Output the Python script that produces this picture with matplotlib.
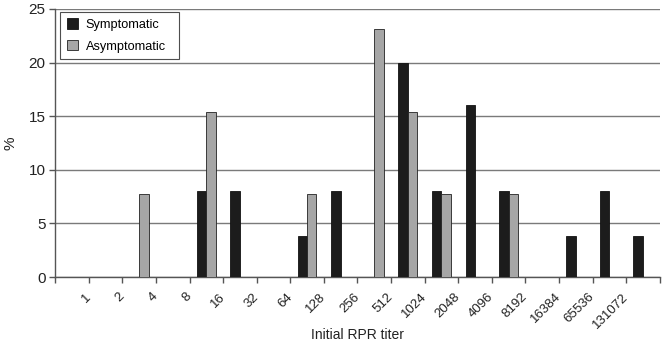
import matplotlib.pyplot as plt
import matplotlib.transforms as mtransforms
import numpy as np

plt.rcParams["font.family"] = ["Liberation Sans", "DejaVu Sans"]

# 18 bar slots; the titer labels sit on the 17 interior slot boundaries
titer_labels = ["1", "2", "4", "8", "16", "32", "64", "128", "256", "512",
                "1024", "2048", "4096", "8192", "16384", "65536", "131072"]
symptomatic = [0, 0, 0, 0, 8, 8, 0, 3.85, 8, 0, 20, 8, 16, 8, 0, 3.85, 8, 3.85]
asymptomatic = [0, 0, 7.7, 0, 15.4, 0, 0, 7.7, 0, 23.1, 15.4, 7.7, 0, 7.7, 0, 0, 0, 0]


def main() -> None:
    fig = plt.figure(figsize=(6.65, 3.45), dpi=100)
    ax = fig.add_axes([0.083, 0.197, 0.909, 0.777])

    n = len(symptomatic)
    x = np.arange(n) + 0.5
    w = 0.28
    ax.bar(x - w / 2, symptomatic, w, color="#1c1c1c", edgecolor="#111111",
           linewidth=0.6, label="Symptomatic", zorder=3)
    ax.bar(x + w / 2, asymptomatic, w, color="#a6a6a6", edgecolor="#222222",
           linewidth=0.6, label="Asymptomatic", zorder=3)

    ax.set_xlim(0, n)
    ax.set_ylim(0, 25)
    ax.set_yticks(np.arange(0, 26, 5))
    ax.yaxis.grid(True, color="#7a7a7a", linewidth=1.0, zorder=0)

    ax.set_xticks(np.arange(n + 1))
    ax.set_xticklabels([""] + titer_labels + [""], rotation=45, ha="right",
                       va="center", rotation_mode="anchor", fontsize=9.5)
    shift = mtransforms.ScaledTranslation(4 / 100, 0, fig.dpi_scale_trans)
    for lbl in ax.get_xticklabels():
        lbl.set_transform(lbl.get_transform() + shift)

    for side in ("top", "right"):
        ax.spines[side].set_visible(False)
    for side in ("left", "bottom"):
        ax.spines[side].set_color("#555555")
        ax.spines[side].set_linewidth(1.0)
    ax.tick_params(axis="both", colors="#555555", length=4, width=1.0,
                   labelcolor="#222222")
    ax.tick_params(axis="y", labelsize=11, pad=3)
    ax.tick_params(axis="x", pad=9)

    ax.set_ylabel("%", fontsize=11, color="#222222")
    ax.yaxis.set_label_coords(-0.062, 0.5)
    ax.set_xlabel("Initial RPR titer", fontsize=10, color="#222222")
    ax.xaxis.set_label_coords(0.5, -0.19)

    leg = ax.legend(loc="upper left", bbox_to_anchor=(0.0083, 0.989, 0.197, 0),
                    mode="expand", fontsize=9.2, frameon=True, fancybox=False,
                    edgecolor="#222222", handlelength=0.86, handleheight=0.86,
                    handletextpad=0.63, borderpad=0.5, labelspacing=0.72,
                    borderaxespad=0.0)
    leg.get_frame().set_linewidth(0.8)

    fig.savefig("out.png", dpi=100)


if __name__ == "__main__":
    main()
